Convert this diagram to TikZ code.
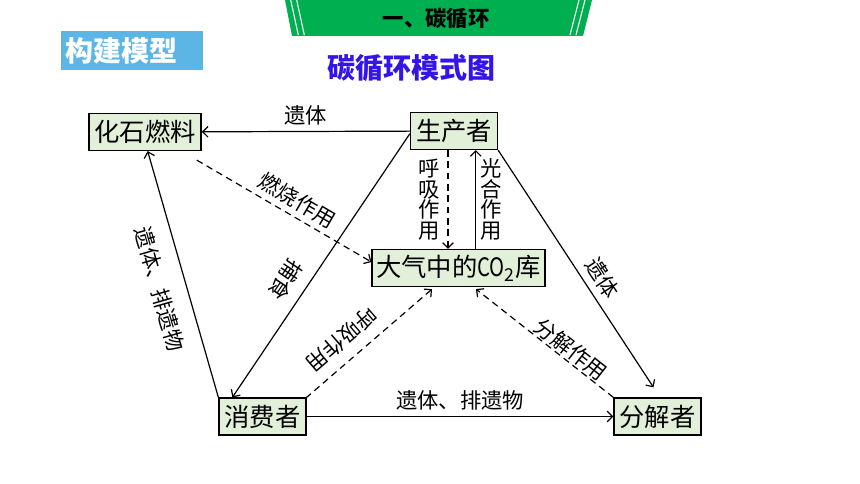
\documentclass[tikz,border=0pt]{standalone}
\usepackage{fontspec}
\usepackage{graphicx}
\setmainfont{Noto Sans CJK SC}
\usetikzlibrary{positioning,arrows.meta}

\definecolor{boxgreen}{RGB}{226,239,217}
\definecolor{bannergreen}{RGB}{0,176,80}
\definecolor{tagblue}{RGB}{91,181,229}
\definecolor{titleblue}{RGB}{52,20,230}

\begin{document}
\begin{tikzpicture}[
        x=0.75pt,
        y=-0.75pt,
        stage/.style={
          draw,
          fill=boxgreen,
          line width=1.2pt,
          inner xsep=4pt,
          inner ysep=0pt,
          minimum height=27.5pt,
          font=\fontsize{19}{19}\selectfont
          },
        flow/.style={
          line width=0.9pt
          },
        resp/.style={
          flow,
          dash pattern=on 5pt off 3.5pt
          },
        lbl/.style={
          font=\fontsize{16}{15.5}\selectfont,
          inner sep=0pt,
          align=center
          },
        >={Straight Barb[length=4pt,width=8pt]}
        ]
        \useasboundingbox (0,0) rectangle (860,484);
        % header
        \fill[bannergreen] (285,0) -- (592,0) -- (583,36) -- (292,36) -- cycle;
        \foreach \ai/\aii in {290.7/298.3,296.7/304.3,585/576,579/570}
          \draw[white, line width=0.8pt] (\ai,0) -- (\aii,35);
        \node[font=\fontsize{16}{16}\selectfont\bfseries] (head) at (436,19) {一、碳循环};
        \node[fill=tagblue, text=white, anchor=north west, text width=100pt,
          inner xsep=3pt, minimum height=29.25pt, align=left,
          font=\fontsize{21}{21}\selectfont\bfseries] (model) at (61,31) {构建模型};
        \node[text=titleblue, font=\fontsize{21}{21}\selectfont\bfseries] (title) at (411,68) {碳循环模式图};
        % boxes
        \node[stage] (fossil) at (145,132) {化石燃料};
        \node[stage] (producer) at (454,131) {生产者};
        \node[stage, inner xsep=3pt] (co2) at (458.5,268) {大气中的\scalebox{0.8}[1]{CO}\textsubscript{2}库};
        \node[stage] (consumer) at (262.5,416.5) {消费者};
        \node[stage] (decomp) at (657.5,416.5) {分解者};
        \coordinate (rtop) at ([xshift=-4.5pt]producer.south);
        \coordinate (ptop) at ([xshift=13pt]co2.north);
        % arrows
        \draw[flow,->] (producer) -- node[lbl, above=4pt] {遗体} (fossil);
        \draw[resp,->] ([shift={(-5,9)}]fossil.south east) -- node[lbl, sloped, above=4pt, pos=0.53] {燃烧作用} ([yshift=4.5pt]co2.west);
        \draw[flow,->] ([yshift=-2pt]producer.west) -- node[lbl, sloped, allow upside down, below=8pt, pos=0.6] {捕食} ([xshift=10.5pt]consumer.north west);
        \draw[resp,->] (rtop) -- node[lbl, left=6pt] {呼\\吸\\作\\用} (rtop |- co2.north);
        \draw[flow,->] (ptop) -- node[lbl, right=3pt] {光\\合\\作\\用} (ptop |- producer.south);
        \draw[flow,->] (producer.south east) -- node[lbl, sloped, above=5pt, pos=0.58] {遗体} ([shift={(-4,-10)}]decomp.north);
        \draw[flow,->] (consumer.north west) -- node[lbl, sloped, below=12pt, pos=0.47] {遗体、排遗物} ([xshift=2pt]fossil.south);
        \draw[resp,<-] ([shift={(-26.5,2)}]co2.south) -- node[lbl, sloped, allow upside down, below=8pt, pos=0.61] {呼吸作用} (consumer.north east);
        \draw[resp,->] (decomp.north west) -- node[lbl, sloped, above=1pt, pos=0.36] {分解作用} ([shift={(17.5,2)}]co2.south);
        \draw[flow,->] (consumer) -- node[lbl, above=4pt] {遗体、排遗物} (decomp);
\end{tikzpicture}
\end{document}
